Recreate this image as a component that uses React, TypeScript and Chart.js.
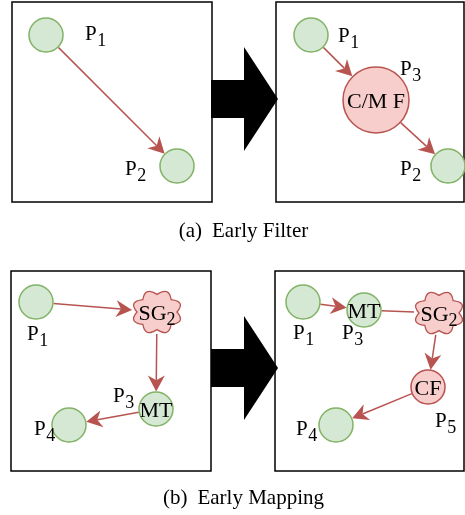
import { useEffect, useRef } from "react";
import { Chart, registerables } from "chart.js";

Chart.register(...registerables);

const CANVAS_W = 465;
const CANVAS_H = 515;
const FONT = '"Liberation Serif", "Times New Roman", serif';

// ---- Nodes (diagram coordinates) ----
const nodeX = [46, 177, 311, 376, 448, 36, 157, 156, 69, 303, 364, 439, 428, 336];
const nodeY = [35, 166, 35, 100, 166, 302, 312, 409, 425, 302, 310, 313, 387, 425];
const nodeKind = ["green", "green", "green", "pink", "green", "green", "cloud", "green", "green", "green", "green", "cloud", "pink", "green"];
const nodeRadius = [17, 17, 17, 33, 17, 17, 25, 17, 17, 17, 17, 25, 17, 17];
const nodeMain = ["", "", "", "C/M F", "", "", "SG", "MT", "", "", "MT", "SG", "CF", ""];
const nodeSub = ["", "", "", "", "", "", "2", "", "", "", "", "2", "", ""];

// ---- Edges ----
const edgeFrom = [0, 2, 3, 5, 6, 7, 9, 10, 11, 12];
const edgeTo = [1, 3, 4, 6, 7, 8, 10, 11, 12, 13];
const edgeArrow = [true, true, true, true, true, true, true, false, true, true];

// ---- Node labels ----
const labelSub = ["1", "2", "1", "3", "2", "1", "3", "4", "1", "3", "4", "5"];
const labelX = [85, 125, 338, 400, 400, 27, 113, 34, 293, 342, 296, 435];
const labelY = [40, 175, 42, 75, 175, 340, 402, 435, 339, 339, 435, 427];

// ---- Panels ----
const panelX0 = [12, 276, 11, 275];
const panelX1 = [212, 464, 211, 464];
const panelY0 = [2, 2, 271, 271];
const panelY1 = [202, 202, 471, 471];

// ---- Big transition arrows ----
const bigArrowY = [99, 368];
const bigArrowX0 = [211, 211];
const bigArrowXHead = [244, 244];
const bigArrowXTip = [278, 278];

// ---- Captions ----
const captionPrefix = ["(a)", "(b)"];
const captionText = ["Early Filter", "Early Mapping"];
const captionY = [237, 504];
const captionCX = [243.5, 243.5];

const GREEN_FILL = "#d5e8d4";
const GREEN_STROKE = "#82b366";
const PINK_FILL = "#f8cecc";
const PINK_STROKE = "#b85450";

function idxOf(kind: string) {
  return nodeKind.map((k, i) => (k === kind ? i : -1)).filter((i) => i >= 0);
}

function cloudPath(ctx: CanvasRenderingContext2D, cx: number, cy: number, rx: number, ry: number) {
  const n = 8;
  ctx.beginPath();
  for (let i = 0; i <= n; i++) {
    const a = -Math.PI / 2 + (2 * Math.PI * i) / n;
    const px = cx + rx * 0.8 * Math.cos(a);
    const py = cy + ry * 0.8 * Math.sin(a);
    if (i === 0) ctx.moveTo(px, py);
    else {
      const am = a - Math.PI / n;
      ctx.quadraticCurveTo(cx + rx * 1.26 * Math.cos(am), cy + ry * 1.26 * Math.sin(am), px, py);
    }
  }
  ctx.closePath();
}

const diagramPlugin = {
  id: "diagram",
  beforeDatasetsDraw(chart: any) {
    const ctx: CanvasRenderingContext2D = chart.ctx;
    const xs = chart.scales.x;
    const ys = chart.scales.y;
    const px = (v: number) => xs.getPixelForValue(v);
    const py = (v: number) => ys.getPixelForValue(v);
    ctx.save();
    // panels
    ctx.strokeStyle = "#000";
    ctx.lineWidth = 1.5;
    for (let i = 0; i < panelX0.length; i++) {
      ctx.strokeRect(px(panelX0[i]), py(panelY0[i]), px(panelX1[i]) - px(panelX0[i]), py(panelY1[i]) - py(panelY0[i]));
    }
    // big arrows
    ctx.fillStyle = "#000";
    for (let i = 0; i < bigArrowY.length; i++) {
      const cy = py(bigArrowY[i]);
      ctx.beginPath();
      ctx.moveTo(px(bigArrowX0[i]), cy - 19);
      ctx.lineTo(px(bigArrowXHead[i]), cy - 19);
      ctx.lineTo(px(bigArrowXHead[i]), cy - 52);
      ctx.lineTo(px(bigArrowXTip[i]), cy);
      ctx.lineTo(px(bigArrowXHead[i]), cy + 52);
      ctx.lineTo(px(bigArrowXHead[i]), cy + 19);
      ctx.lineTo(px(bigArrowX0[i]), cy + 19);
      ctx.closePath();
      ctx.fill();
    }
    // edges
    const boundary = (i: number, ux: number, uy: number) => {
      if (nodeKind[i] === "cloud") {
        const rx = 25, ry = 22;
        const t = 1 / Math.sqrt((ux * ux) / (rx * rx) + (uy * uy) / (ry * ry));
        return t;
      }
      return nodeRadius[i] + 0.5;
    };
    ctx.strokeStyle = PINK_STROKE;
    ctx.fillStyle = PINK_STROKE;
    ctx.lineWidth = 1.5;
    for (let e = 0; e < edgeFrom.length; e++) {
      const a = edgeFrom[e];
      const b = edgeTo[e];
      const ax = px(nodeX[a]), ay = py(nodeY[a]);
      const bx = px(nodeX[b]), by = py(nodeY[b]);
      const d = Math.hypot(bx - ax, by - ay);
      const ux = (bx - ax) / d, uy = (by - ay) / d;
      const sa = boundary(a, ux, uy);
      const sb = boundary(b, ux, uy);
      const x0 = ax + ux * sa, y0 = ay + uy * sa;
      const x1 = bx - ux * sb, y1 = by - uy * sb;
      const L = 16, w = 8.5;
      ctx.beginPath();
      ctx.moveTo(x0, y0);
      if (edgeArrow[e]) ctx.lineTo(x1 - ux * L * 0.7, y1 - uy * L * 0.7);
      else ctx.lineTo(x1, y1);
      ctx.stroke();
      if (edgeArrow[e]) {
        const nx = -uy, ny = ux;
        ctx.beginPath();
        ctx.moveTo(x1, y1);
        ctx.lineTo(x1 - ux * L + nx * w, y1 - uy * L + ny * w);
        ctx.lineTo(x1 - ux * L * 0.7, y1 - uy * L * 0.7);
        ctx.lineTo(x1 - ux * L - nx * w, y1 - uy * L - ny * w);
        ctx.closePath();
        ctx.fill();
      }
    }
    ctx.restore();
  },
  afterDatasetsDraw(chart: any) {
    const ctx: CanvasRenderingContext2D = chart.ctx;
    const xs = chart.scales.x;
    const ys = chart.scales.y;
    const px = (v: number) => xs.getPixelForValue(v);
    const py = (v: number) => ys.getPixelForValue(v);
    ctx.save();
    // clouds
    idxOf("cloud").forEach((i) => {
      cloudPath(ctx, px(nodeX[i]), py(nodeY[i]), 25, 22);
      ctx.fillStyle = PINK_FILL;
      ctx.fill();
      ctx.strokeStyle = PINK_STROKE;
      ctx.lineWidth = 1.3;
      ctx.stroke();
    });
    // node texts
    ctx.fillStyle = "#000";
    ctx.textBaseline = "alphabetic";
    ctx.textAlign = "left";
    for (let i = 0; i < nodeMain.length; i++) {
      if (!nodeMain[i]) continue;
      ctx.font = `22px ${FONT}`;
      const wm = ctx.measureText(nodeMain[i]).width;
      ctx.font = `18px ${FONT}`;
      const ws = nodeSub[i] ? ctx.measureText(nodeSub[i]).width : 0;
      const total = wm + ws;
      const x = px(nodeX[i]) - total / 2;
      const y = py(nodeY[i]) + 7.5;
      ctx.font = `22px ${FONT}`;
      ctx.fillText(nodeMain[i], x, y);
      if (nodeSub[i]) {
        ctx.font = `18px ${FONT}`;
        ctx.fillText(nodeSub[i], x + wm, y + 5);
      }
    }
    // P labels
    for (let i = 0; i < labelSub.length; i++) {
      const x = px(labelX[i]);
      const y = py(labelY[i]);
      ctx.font = `21px ${FONT}`;
      ctx.fillText("P", x, y);
      const wp = ctx.measureText("P").width;
      ctx.font = `18px ${FONT}`;
      ctx.fillText(labelSub[i], x + wp + 0.5, y + 6);
    }
    // captions
    for (let i = 0; i < captionText.length; i++) {
      ctx.font = `21px ${FONT}`;
      const w1 = ctx.measureText(captionPrefix[i]).width;
      const w2 = ctx.measureText(captionText[i]).width;
      const gap = 10;
      const total = w1 + gap + w2;
      const x = px(captionCX[i]) - total / 2;
      const y = py(captionY[i]);
      ctx.fillText(captionPrefix[i], x, y);
      ctx.fillText(captionText[i], x + w1 + gap, y);
    }
    ctx.restore();
  },
};

function makeDataset(kind: string, fill: string, stroke: string) {
  const ids = idxOf(kind);
  return {
    label: kind,
    data: ids.map((i) => ({ x: nodeX[i], y: nodeY[i] })),
    pointRadius: ids.map((i) => nodeRadius[i]),
    pointHoverRadius: ids.map((i) => nodeRadius[i]),
    pointBackgroundColor: fill,
    pointBorderColor: stroke,
    pointBorderWidth: 1.5,
    pointStyle: "circle",
    showLine: false,
    clip: false as any,
  };
}

export default function App() {
  const ref = useRef<HTMLCanvasElement | null>(null);
  useEffect(() => {
    if (!ref.current) return;
    const chart = new Chart(ref.current, {
      type: "scatter",
      data: {
        datasets: [
          makeDataset("green", GREEN_FILL, GREEN_STROKE),
          makeDataset("pink", PINK_FILL, PINK_STROKE),
        ] as any,
      },
      options: {
        responsive: false,
        animation: false,
        events: [],
        layout: { padding: 0, autoPadding: false },
        plugins: { legend: { display: false }, tooltip: { enabled: false } },
        scales: {
          x: { type: "linear", min: 0, max: CANVAS_W, display: false },
          y: { type: "linear", min: 0, max: CANVAS_H, reverse: true, display: false },
        },
      },
      plugins: [diagramPlugin],
    });
    return () => chart.destroy();
  }, []);
  return (
    <div style={{ position: "absolute", left: 0, top: 0, width: CANVAS_W, height: CANVAS_H, background: "#fff" }}>
      <canvas ref={ref} width={CANVAS_W} height={CANVAS_H} />
    </div>
  );
}
